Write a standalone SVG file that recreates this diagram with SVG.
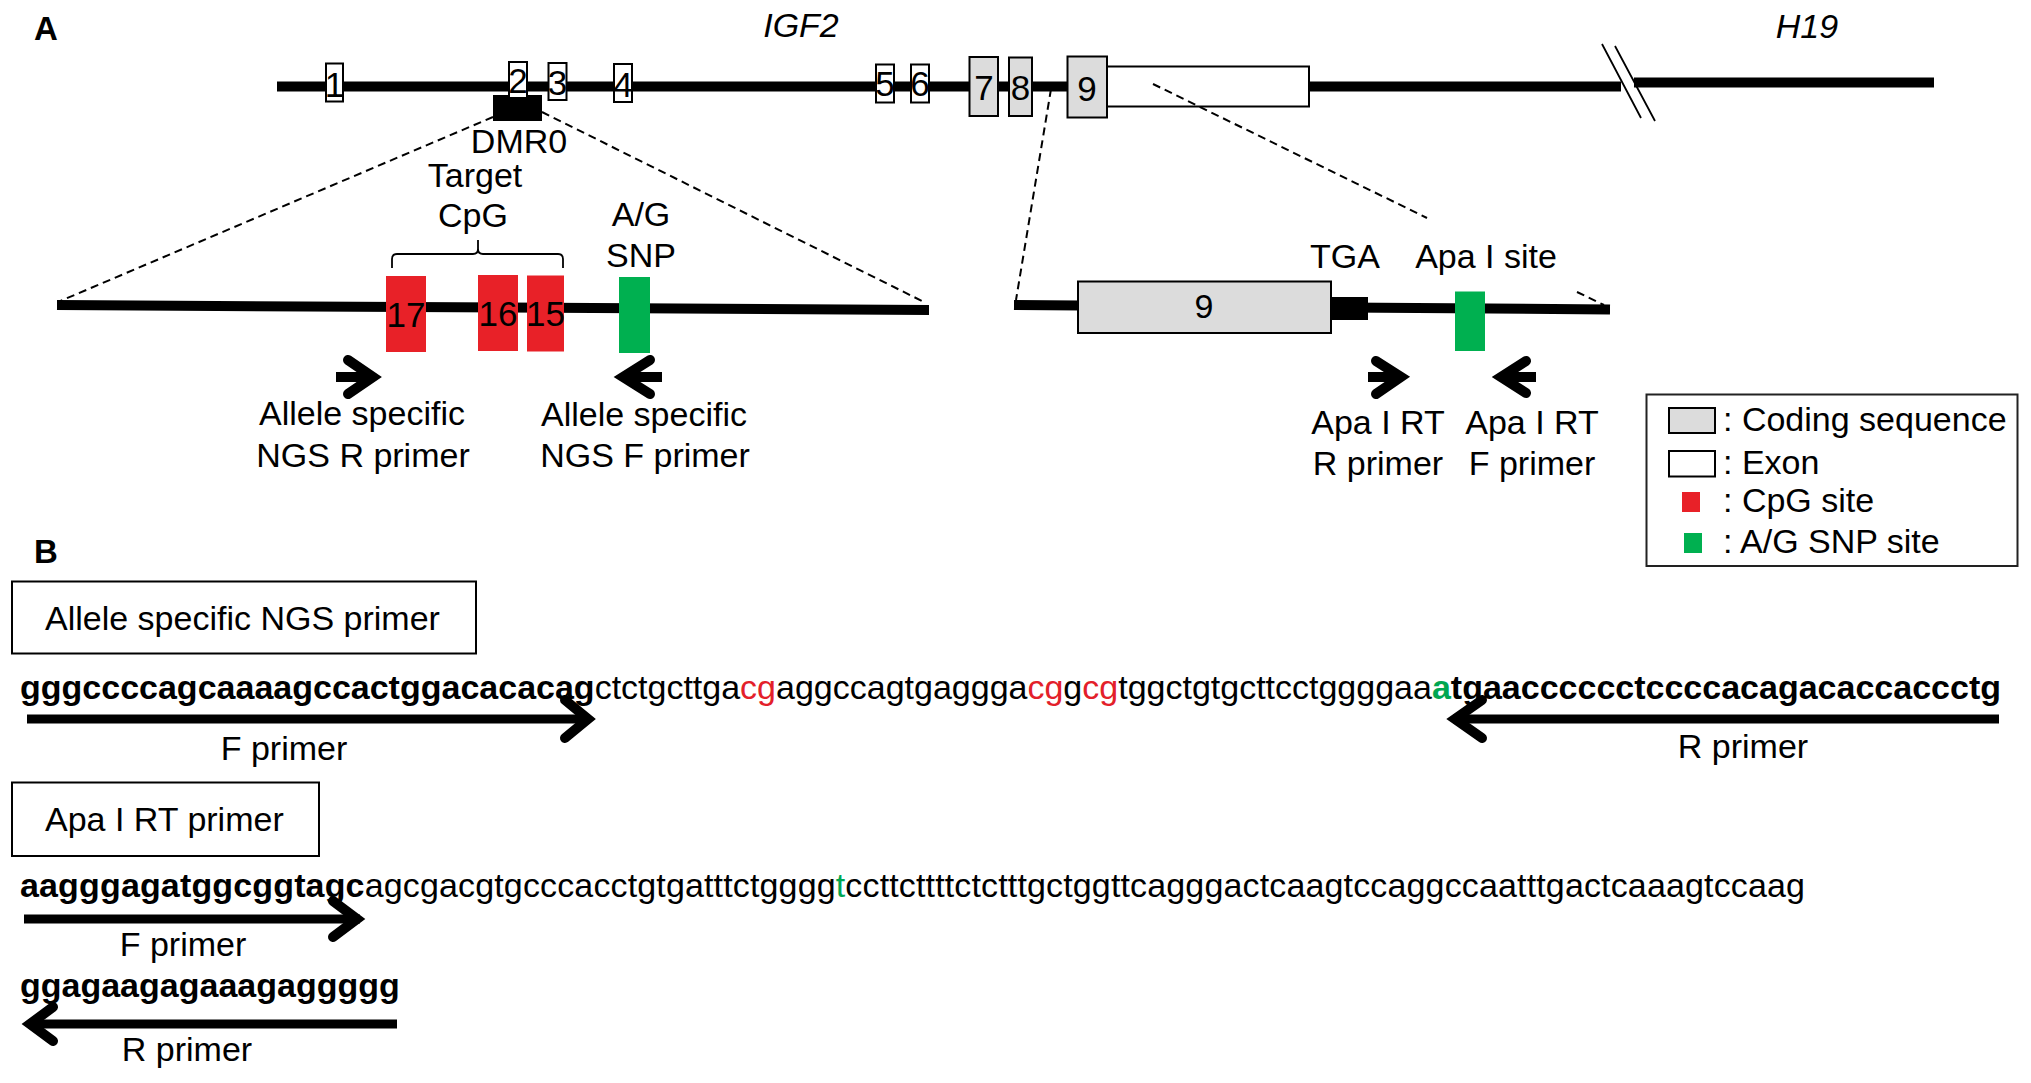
<svg xmlns="http://www.w3.org/2000/svg" width="2031" height="1083" viewBox="0 0 2031 1083">
<style>
text{font-family:"Liberation Sans",Arial,Helvetica,sans-serif;font-size:34px;fill:#000}
.b{font-weight:bold}
.it{font-style:italic}
.mid{text-anchor:middle}
.dig{font-size:35px;text-anchor:middle}
.red{fill:#e3202a}
.grn{fill:#00a651}
.box{fill:#fff;stroke:#000;stroke-width:2}
.cds{fill:#dcdcdc;stroke:#000;stroke-width:2}
.track{stroke:#000;stroke-width:10;fill:none}
.dash{stroke:#000;stroke-width:2;stroke-dasharray:8 5;fill:none}
.shaft{stroke:#000;stroke-width:9;fill:none}
.head{stroke:#000;stroke-width:10;fill:none;stroke-linecap:round;stroke-linejoin:miter}
.thin{stroke:#000;stroke-width:1.8;fill:none}
</style>
<rect width="2031" height="1083" fill="#fff"/>

<g id="panel-labels">
<text class="b" x="34" y="40" style="font-size:33px">A</text>
<text class="b" x="34" y="563" style="font-size:33px">B</text>
</g>

<g id="gene-track">
<text class="it mid" x="801" y="37">IGF2</text>
<text class="it mid" x="1807" y="38">H19</text>
<path class="track" d="M277,86.5 L1621,86.5"/>
<path class="track" d="M1634,82.5 L1934,82.5"/>
<path class="thin" d="M1602,44 L1641,118 M1615,46 L1655,121"/>
</g>

<g id="dmr0">
<rect x="493" y="95" width="49" height="26" fill="#000"/>
<text class="mid" x="519" y="153">DMR0</text>
</g>

<g id="exon1"><rect class="box" x="326" y="63.5" width="17" height="38"/><text class="dig" x="334.5" y="97">1</text></g>
<g id="exon2"><rect class="box" x="509" y="62" width="18" height="36"/><text class="dig" x="518" y="93">2</text></g>
<g id="exon3"><rect class="box" x="548.5" y="63" width="18" height="37"/><text class="dig" x="557.5" y="95">3</text></g>
<g id="exon4"><rect class="box" x="614" y="64" width="18" height="38"/><text class="dig" x="623" y="97">4</text></g>
<g id="exon5"><rect class="box" x="876" y="64.5" width="18" height="38"/><text class="dig" x="885" y="96">5</text></g>
<g id="exon6"><rect class="box" x="911" y="64.5" width="18" height="38"/><text class="dig" x="920" y="96">6</text></g>
<g id="exon7"><rect class="cds" x="969.5" y="57" width="28.5" height="59"/><text class="dig" x="984" y="100">7</text></g>
<g id="exon8"><rect class="cds" x="1009" y="57.5" width="23" height="58.5"/><text class="dig" x="1020.5" y="100">8</text></g>
<g id="exon9"><rect class="cds" x="1067.5" y="56.5" width="39.5" height="61"/><text class="dig" x="1087" y="100.5">9</text></g>
<g id="exon9-utr"><rect class="box" x="1107" y="66.5" width="202" height="40"/></g>

<g id="connectors">
<path class="dash" d="M493,117 L58,302"/>
<path class="dash" d="M542,112 L926,303"/>
<path class="dash" d="M1051,89 L1016,300"/>
<path class="dash" d="M1153,84 L1427,218"/>
<path class="dash" d="M1577,292 L1604,305"/>
</g>

<g id="dmr0-detail">
<path class="track" d="M57,305 L929,310"/>
<path class="thin" d="M392,268 L392,259 Q392,254 397,254 L473,254 Q478,254 478,249 L478,240 L478,249 Q478,254 483,254 L558,254 Q563,254 563,259 L563,268"/>
<text class="mid" x="475" y="187">Target</text>
<text class="mid" x="473" y="227">CpG</text>
<g id="cpg17"><rect x="386" y="276" width="40" height="76" fill="#e82128"/><text class="mid" x="406" y="327" style="font-size:35px">17</text></g>
<g id="cpg16"><rect x="478" y="275" width="40" height="76" fill="#e82128"/><text class="mid" x="498" y="326" style="font-size:35px">16</text></g>
<g id="cpg15"><rect x="527" y="275.5" width="37" height="76" fill="#e82128"/><text class="mid" x="545.5" y="326" style="font-size:35px">15</text></g>
<g id="snp-ag"><rect x="619" y="277" width="31" height="76" fill="#00b050"/></g>
<text class="mid" x="641" y="226">A/G</text>
<text class="mid" x="641" y="267">SNP</text>
</g>

<g id="exon9-detail">
<path class="track" d="M1014,305 L1610,309.5"/>
<rect class="cds" x="1078" y="281.5" width="253" height="51.5"/>
<text class="mid" x="1204" y="318">9</text>
<rect x="1331" y="297" width="37" height="23" fill="#000"/>
<text class="mid" x="1345" y="268">TGA</text>
<text class="mid" x="1486" y="268">Apa I site</text>
<rect x="1455" y="291.5" width="30" height="59.5" fill="#00b050"/>
</g>

<g id="primers-a">
<path class="shaft" d="M336,377 H374" style="stroke-width:10"/>
<path class="head" d="M348,360 L373,377 L348,394"/>
<path class="shaft" d="M662,377 H622" style="stroke-width:10"/>
<path class="head" d="M650,360 L623,377 L650,394"/>
<path class="shaft" d="M1368,377 H1402" style="stroke-width:10"/>
<path class="head" d="M1376,361 L1401,377 L1376,394"/>
<path class="shaft" d="M1536,377 H1500" style="stroke-width:10"/>
<path class="head" d="M1526,361 L1501,377 L1526,393"/>
<text class="mid" x="362" y="425">Allele specific</text>
<text class="mid" x="363" y="467">NGS R primer</text>
<text class="mid" x="644" y="426">Allele specific</text>
<text class="mid" x="645" y="467">NGS F primer</text>
<text class="mid" x="1378" y="434">Apa I RT</text>
<text class="mid" x="1378" y="475">R primer</text>
<text class="mid" x="1532" y="434">Apa I RT</text>
<text class="mid" x="1532" y="475">F primer</text>
</g>

<g id="legend">
<rect x="1646.5" y="394.5" width="371" height="171.5" fill="#fff" stroke="#222" stroke-width="2"/>
<rect class="cds" x="1669" y="408" width="46" height="25"/>
<text x="1723" y="431">: Coding sequence</text>
<rect class="box" x="1669" y="451" width="46" height="25.5"/>
<text x="1723" y="473.5">: Exon</text>
<rect x="1682" y="492" width="18" height="20" fill="#e82128"/>
<text x="1723" y="512">: CpG site</text>
<rect x="1684" y="533" width="18" height="20" fill="#00b050"/>
<text x="1723" y="553">: A/G SNP site</text>
</g>

<g id="ngs-primer">
<rect class="box" x="12" y="581.5" width="464" height="72"/>
<text x="45" y="630">Allele specific NGS primer</text>
<text x="20" y="699" textLength="1981" lengthAdjust="spacing"><tspan class="b">gggccccagcaaaagccactggacacacag</tspan>ctctgcttga<tspan class="red">cg</tspan>aggccagtgaggga<tspan class="red">cg</tspan>g<tspan class="red">cg</tspan>tggctgtgcttcctggggaa<tspan class="b grn">a</tspan><tspan class="b">tgaacccccctccccacagacaccaccctg</tspan></text>
<path class="shaft" d="M27,719 H590"/>
<path class="head" d="M565,700 L588,719 L565,738"/>
<text class="mid" x="284" y="760">F primer</text>
<path class="shaft" d="M1999,719 H1453"/>
<path class="head" d="M1482,700 L1455,719 L1482,738"/>
<text class="mid" x="1743" y="758">R primer</text>
</g>

<g id="apa-primer">
<rect class="box" x="12" y="782.5" width="307" height="73.5"/>
<text x="45" y="831">Apa I RT primer</text>
<text x="20" y="897" textLength="1785" lengthAdjust="spacing"><tspan class="b">aagggagatggcggtagc</tspan>agcgacgtgcccacctgtgatttctgggg<tspan class="grn">t</tspan>ccttcttttctctttgctggttcagggactcaagtccaggccaatttgactcaaagtccaag</text>
<path class="shaft" d="M24,919 H360"/>
<path class="head" d="M333,901 L357,919 L333,937"/>
<text class="mid" x="183" y="956">F primer</text>
<text class="b" x="20" y="997">ggagaagagaaagaggggg</text>
<path class="shaft" d="M397,1024 H28"/>
<path class="head" d="M53,1007 L30,1024 L53,1041"/>
<text class="mid" x="187" y="1061">R primer</text>
</g>
</svg>
